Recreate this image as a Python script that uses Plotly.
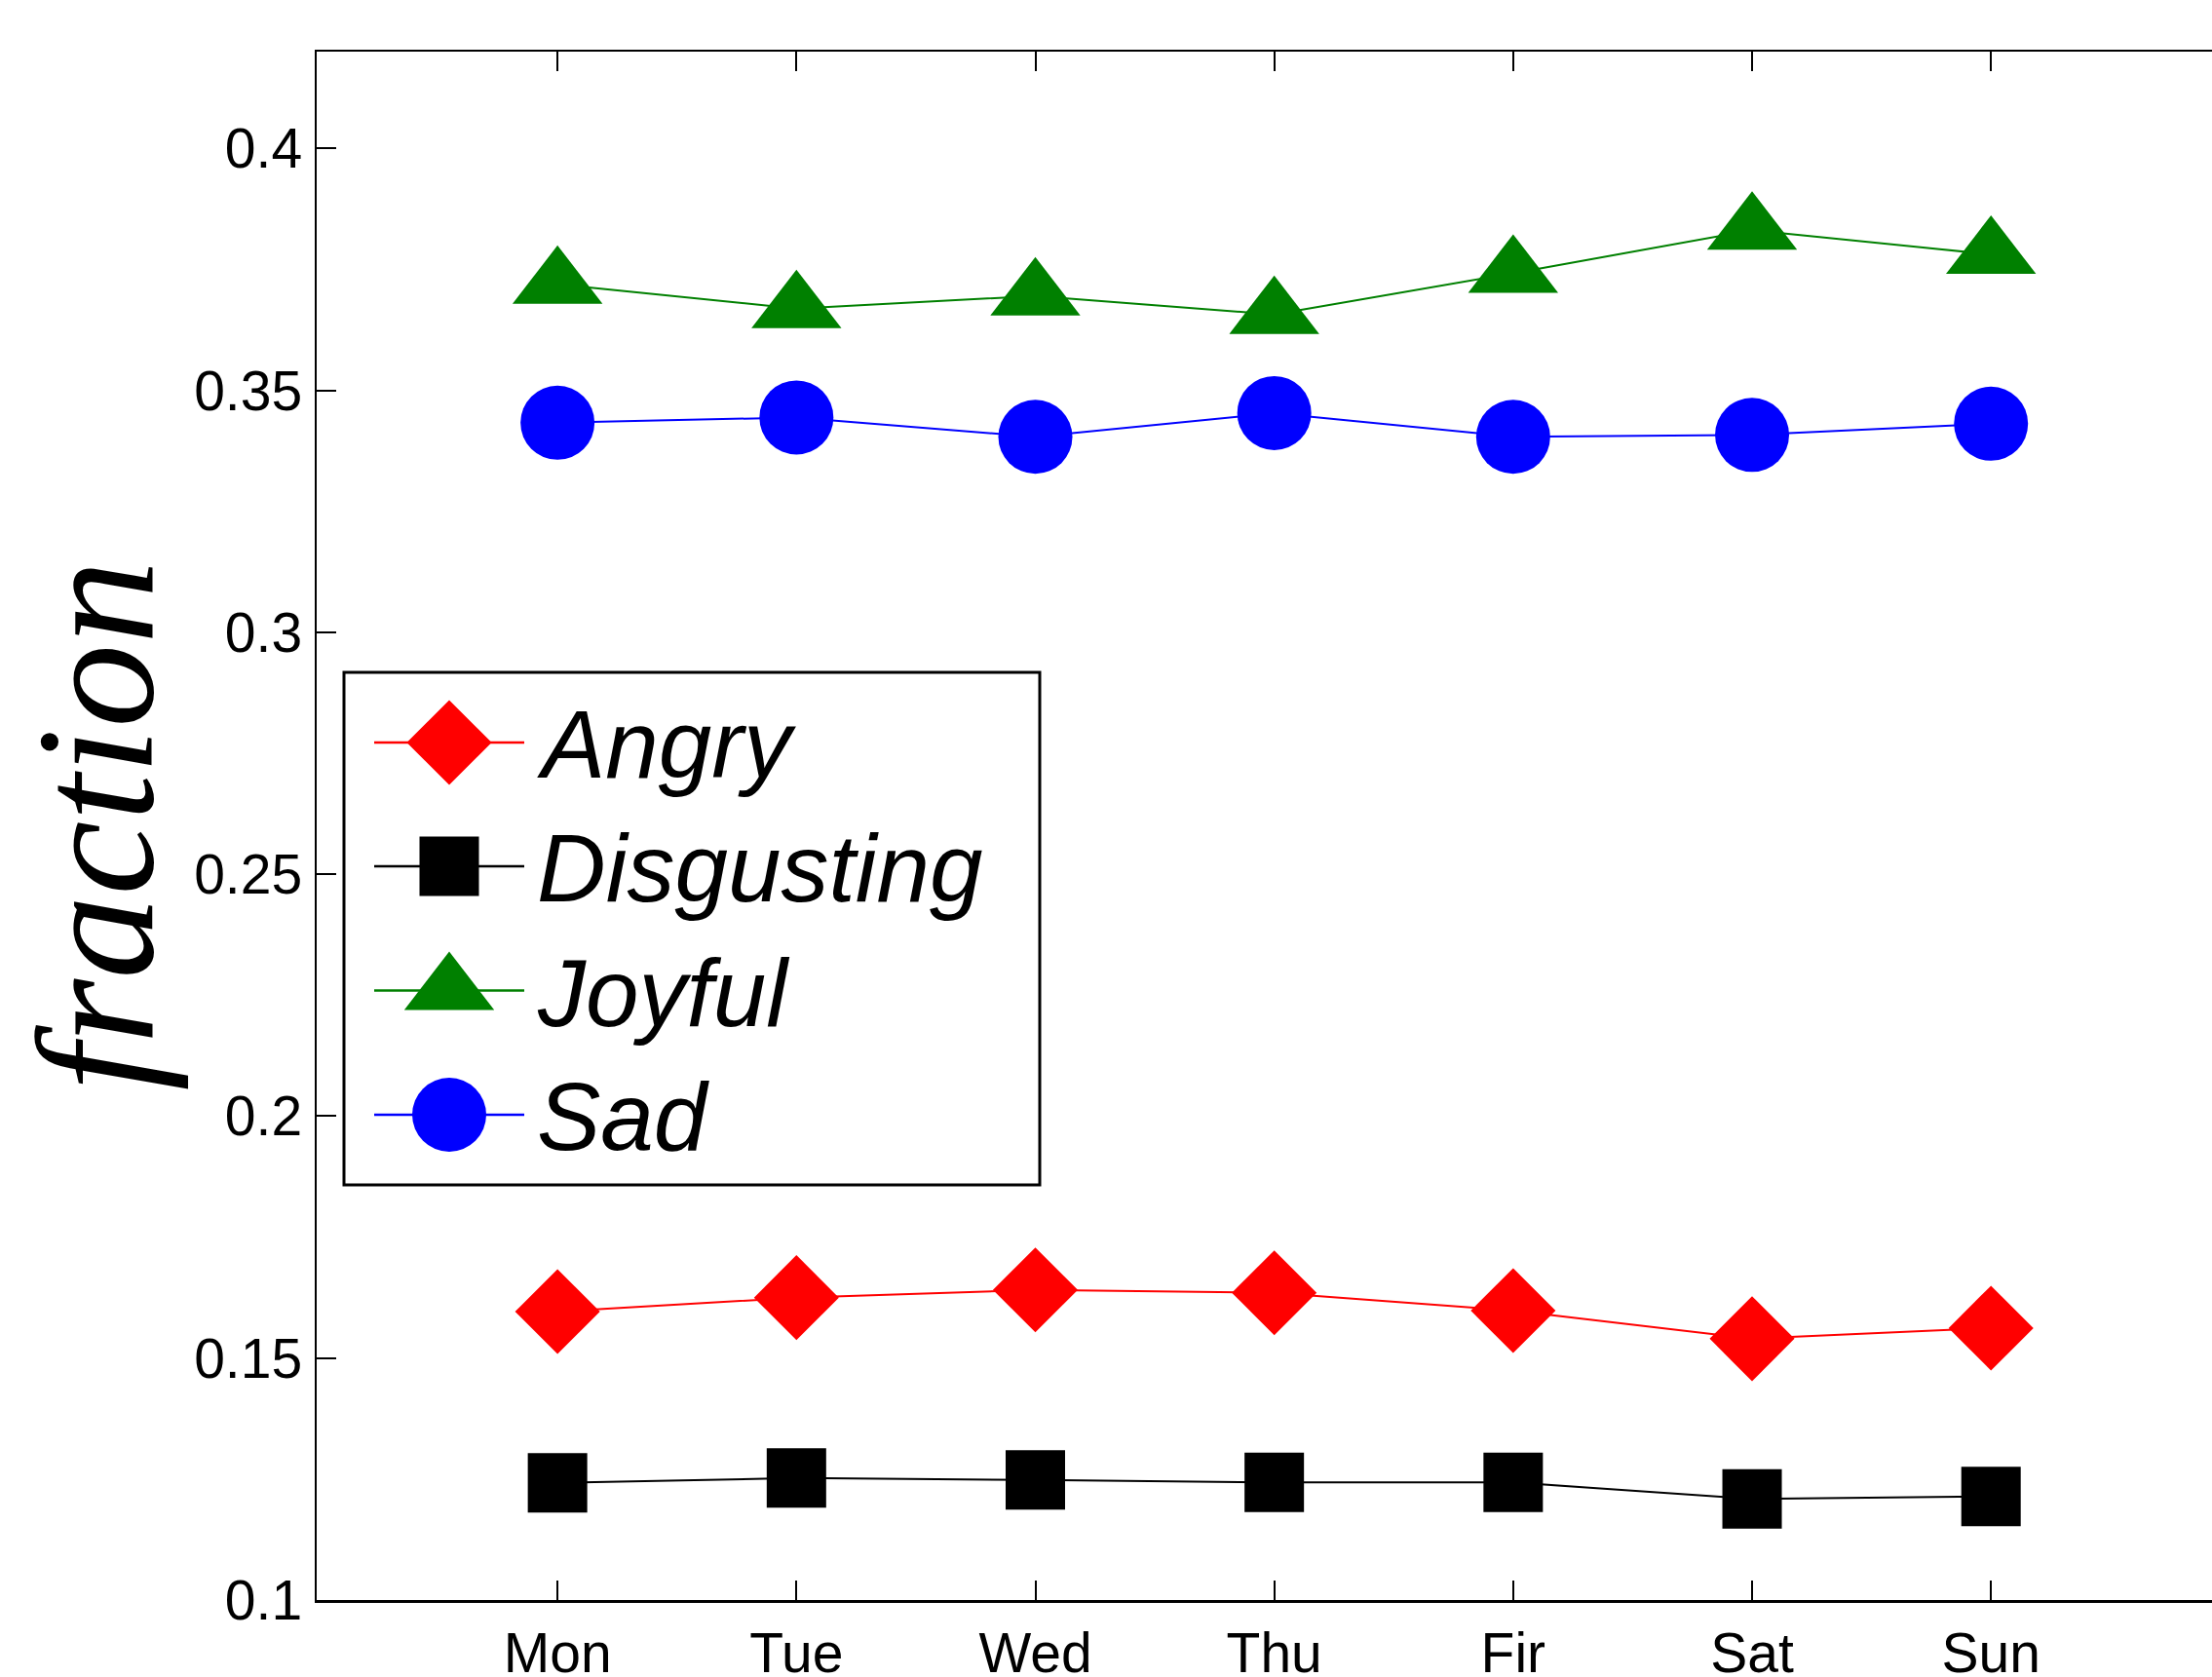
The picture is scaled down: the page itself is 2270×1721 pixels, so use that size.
import plotly.graph_objects as go

# ---------------- data ----------------
days = ["Mon", "Tue", "Wed", "Thu", "Fir", "Sat", "Sun"]
angry = [0.1596, 0.1625, 0.1641, 0.1635, 0.1598, 0.1540, 0.1562]
disgusting = [0.1242, 0.1252, 0.1248, 0.1243, 0.1243, 0.1209, 0.1214]
joyful = [0.3719, 0.3669, 0.3695, 0.3657, 0.3742, 0.3831, 0.3781]
sad = [0.3433, 0.3444, 0.3404, 0.3453, 0.3404, 0.3408, 0.3431]

series_names = ["Angry", "Disgusting", "Joyful", "Sad"]
series_values = [angry, disgusting, joyful, sad]
series_colors = ["#FF0000", "#000000", "#008000", "#0000FF"]
series_symbols = ["diamond", "square", "triangle-up", "circle"]
series_sizes = [67, 61, 80, 76]

y_tickvals = [0.1, 0.15, 0.2, 0.25, 0.3, 0.35, 0.4]
y_ticktext = ["0.1", "0.15", "0.2", "0.25", "0.3", "0.35", "0.4"]
y_title = "fraction"

# ---------------- layout constants (pixels) ----------------
W, H = 2270, 1721
ML, MR, MT, MB = 325, 0, 53, 79
PLOT_L, PLOT_R = ML, W - MR
PLOT_T, PLOT_B = MT, H - MB

# manual legend geometry (pixel coordinates on overlay axes)
LEG_BOX = (353, 690, 1067, 1216)
LEG_ROWS = [762, 889, 1016.5, 1144]
LEG_LINE_X = (384, 538)
LEG_TEXT_X = 549

TICK_FONT = dict(family="Liberation Sans, Arial, sans-serif", size=57, color="black")

fig = go.Figure()

for name, vals, col, sym, sz in zip(series_names, series_values, series_colors,
                                    series_symbols, series_sizes):
    fig.add_trace(go.Scatter(
        x=days, y=vals, name=name, mode="lines+markers",
        line=dict(color=col, width=2),
        marker=dict(symbol=sym, size=sz, color=col, opacity=1, line=dict(width=0)),
        showlegend=False, cliponaxis=False,
    ))

# manual legend drawn on a pixel-space overlay axis pair
for name, col, sym, sz, yrow in zip(series_names, series_colors, series_symbols,
                                    series_sizes, LEG_ROWS):
    xm = (LEG_LINE_X[0] + LEG_LINE_X[1]) / 2
    fig.add_trace(go.Scatter(
        x=[LEG_LINE_X[0], xm, LEG_LINE_X[1]], y=[yrow, yrow, yrow],
        mode="lines+markers", xaxis="x2", yaxis="y2",
        line=dict(color=col, width=2.5),
        marker=dict(symbol=sym, size=[0, sz, 0], color=col, opacity=1,
                    line=dict(width=0)),
        showlegend=False, hoverinfo="skip", cliponaxis=False,
    ))
    fig.add_annotation(
        x=LEG_TEXT_X, y=yrow + 2, xref="x2", yref="y2",
        text="<i>%s</i>" % name, showarrow=False,
        xanchor="left", yanchor="middle",
        font=dict(family="Liberation Sans, Arial, sans-serif", size=98, color="black"),
    )

fig.add_shape(type="rect", xref="x2", yref="y2",
              x0=LEG_BOX[0], y0=LEG_BOX[1], x1=LEG_BOX[2], y1=LEG_BOX[3],
              line=dict(color="black", width=3), fillcolor="rgba(0,0,0,0)",
              layer="below")

# y-axis title (rotated)
title_px = 97
fig.add_annotation(
    x=(title_px - PLOT_L) / (PLOT_R - PLOT_L), y=0.5, xref="paper", yref="paper",
    text="<i>%s</i>" % y_title, textangle=-90, showarrow=False,
    xanchor="center", yanchor="middle",
    font=dict(family="Liberation Serif, Times New Roman, serif", size=172, color="black"),
)

fig.update_layout(
    width=W, height=H, autosize=False,
    margin=dict(l=ML, r=MR, t=MT, b=MB, pad=0, autoexpand=False),
    paper_bgcolor="white", plot_bgcolor="white",
    showlegend=False,
    xaxis=dict(
        type="category", categoryorder="array", categoryarray=days,
        range=[-1.008, 6.925], showgrid=False, zeroline=False, automargin=False,
        showline=True, linecolor="black", linewidth=2.5, mirror="ticks",
        ticks="inside", ticklen=20, tickwidth=2, tickcolor="black",
        tickfont=TICK_FONT, ticklabelstandoff=3,
    ),
    yaxis=dict(
        range=[0.1, 0.42], tickvals=y_tickvals, ticktext=y_ticktext,
        showgrid=False, zeroline=False, automargin=False,
        showline=True, linecolor="black", linewidth=2.5, mirror=False,
        ticks="inside", ticklen=20, tickwidth=2, tickcolor="black",
        tickfont=TICK_FONT, ticklabelstandoff=1,
    ),
    xaxis2=dict(overlaying="x", anchor="y2", range=[PLOT_L, PLOT_R], visible=False,
                showgrid=False, zeroline=False, automargin=False),
    yaxis2=dict(overlaying="y", anchor="x2", range=[PLOT_B, PLOT_T], visible=False,
                showgrid=False, zeroline=False, automargin=False),
)

fig.write_html(
    "out.html",
    config={"displayModeBar": False, "staticPlot": True},
    post_script="document.body.style.margin='0';document.body.style.overflow='hidden';",
)
